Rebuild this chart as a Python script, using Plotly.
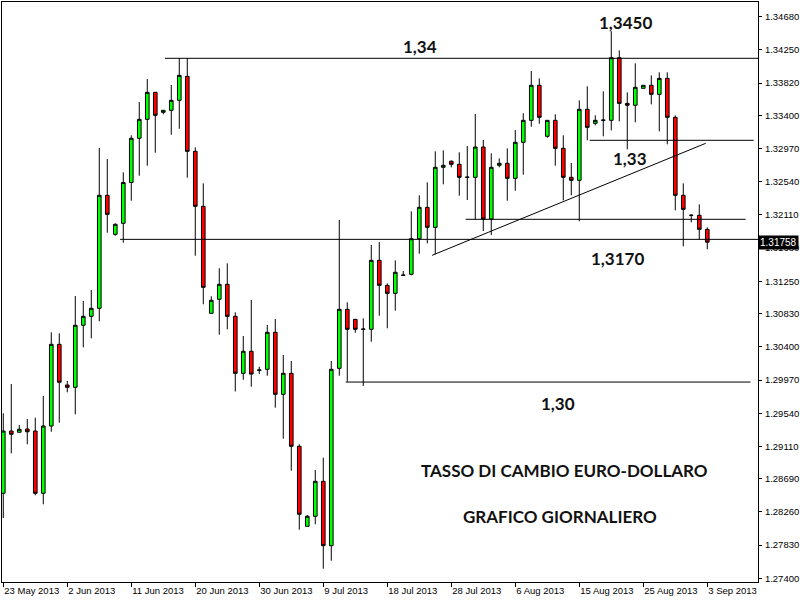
import plotly.graph_objects as go

# Trading days (Sunday-Friday sessions), 23 May 2013 .. 3 Sep 2013
dates = [
    "2013-05-23", "2013-05-24", "2013-05-26", "2013-05-27", "2013-05-28", "2013-05-29", "2013-05-30", "2013-05-31",
    "2013-06-02", "2013-06-03", "2013-06-04", "2013-06-05", "2013-06-06", "2013-06-07", "2013-06-09", "2013-06-10",
    "2013-06-11", "2013-06-12", "2013-06-13", "2013-06-14", "2013-06-16", "2013-06-17", "2013-06-18", "2013-06-19",
    "2013-06-20", "2013-06-21", "2013-06-23", "2013-06-24", "2013-06-25", "2013-06-26", "2013-06-27", "2013-06-28",
    "2013-06-30", "2013-07-01", "2013-07-02", "2013-07-03", "2013-07-04", "2013-07-05", "2013-07-07", "2013-07-08",
    "2013-07-09", "2013-07-10", "2013-07-11", "2013-07-12", "2013-07-14", "2013-07-15", "2013-07-16", "2013-07-17",
    "2013-07-18", "2013-07-19", "2013-07-21", "2013-07-22", "2013-07-23", "2013-07-24", "2013-07-25", "2013-07-26",
    "2013-07-28", "2013-07-29", "2013-07-30", "2013-07-31", "2013-08-01", "2013-08-02", "2013-08-04", "2013-08-05",
    "2013-08-06", "2013-08-07", "2013-08-08", "2013-08-09", "2013-08-11", "2013-08-12", "2013-08-13", "2013-08-14",
    "2013-08-15", "2013-08-16", "2013-08-18", "2013-08-19", "2013-08-20", "2013-08-21", "2013-08-22", "2013-08-23",
    "2013-08-25", "2013-08-26", "2013-08-27", "2013-08-28", "2013-08-29", "2013-08-30", "2013-09-01", "2013-09-02",
    "2013-09-03",
]

open_ = [
    1.28502, 1.29309, 1.29293, 1.29335, 1.29309, 1.28502, 1.29374, 1.30433, 1.29906, 1.29876,
    1.30680, 1.30796, 1.30900, 1.32365, 1.31859, 1.32002, 1.32531, 1.33104, 1.33350, 1.33700,
    1.33441, 1.33467, 1.33596, 1.33907, 1.32935, 1.32222, 1.30835, 1.31017, 1.31211, 1.30796,
    1.30057, 1.30343, 1.30096, 1.30109, 1.30589, 1.29785, 1.30057, 1.29111, 1.28074, 1.28204,
    1.28657, 1.27823, 1.30122, 1.30887, 1.30757, 1.30628, 1.30628, 1.31522, 1.31198, 1.31094,
    1.31328, 1.31341, 1.31802, 1.32209, 1.31950, 1.32728, 1.32806, 1.32767, 1.32598, 1.32598,
    1.32991, 1.32058, 1.32754, 1.32780, 1.32585, 1.33052, 1.33337, 1.33791, 1.33130, 1.33337,
    1.32974, 1.32598, 1.32559, 1.33480, 1.33298, 1.33337, 1.33337, 1.34149, 1.33557, 1.33532,
    1.33752, 1.33791, 1.33674, 1.33881, 1.33376, 1.32365, 1.32106, 1.32106, 1.31924,
]
high = [
    1.29539, 1.29919, 1.29387, 1.29465, 1.29482, 1.29763, 1.30589, 1.30576, 1.29958, 1.31059,
    1.30995, 1.31137, 1.32978, 1.32835, 1.32002, 1.32663, 1.33143, 1.33574, 1.33872, 1.33705,
    1.33470, 1.33795, 1.34141, 1.34141, 1.32987, 1.32520, 1.31056, 1.31419, 1.31483, 1.30848,
    1.30541, 1.31008, 1.30143, 1.30684, 1.30761, 1.30295, 1.30217, 1.29137, 1.28221, 1.28804,
    1.28963, 1.30217, 1.32045, 1.30978, 1.30757, 1.30770, 1.31721, 1.31759, 1.31224, 1.31522,
    1.31384, 1.32157, 1.32365, 1.32533, 1.32935, 1.32948, 1.32818, 1.32922, 1.33004, 1.33419,
    1.33082, 1.32909, 1.32844, 1.32974, 1.33211, 1.33428, 1.33976, 1.33881, 1.33337, 1.33415,
    1.33143, 1.32784, 1.33596, 1.33778, 1.33402, 1.33713, 1.34491, 1.34244, 1.33700, 1.34076,
    1.33791, 1.33920, 1.33959, 1.33959, 1.33402, 1.32520, 1.32118, 1.32248, 1.31950,
]
low = [
    1.28182, 1.29020, 1.29290, 1.29137, 1.28476, 1.28359, 1.29300, 1.29417, 1.29811, 1.29526,
    1.30394, 1.30511, 1.30732, 1.31880, 1.31841, 1.31750, 1.32295, 1.32619, 1.32749, 1.32917,
    1.33415, 1.33150, 1.33228, 1.32593, 1.31582, 1.30952, 1.30835, 1.30558, 1.30628, 1.29822,
    1.29974, 1.29884, 1.30048, 1.30026, 1.29612, 1.29210, 1.28795, 1.28030, 1.28074, 1.28100,
    1.27524, 1.27628, 1.30026, 1.29949, 1.30584, 1.29893, 1.30467, 1.30804, 1.30641, 1.30869,
    1.31328, 1.31328, 1.31608, 1.31743, 1.31600, 1.32507, 1.32728, 1.32360, 1.32304, 1.32054,
    1.31902, 1.31850, 1.32728, 1.32295, 1.32424, 1.32632, 1.33254, 1.33293, 1.33111, 1.32749,
    1.32300, 1.32365, 1.32028, 1.33078, 1.33272, 1.33130, 1.33207, 1.33324, 1.32961, 1.33311,
    1.33752, 1.33544, 1.33194, 1.33026, 1.32170, 1.31704, 1.32015, 1.31794, 1.31665,
]
close = [
    1.29309, 1.29267, 1.29332, 1.29300, 1.28502, 1.29374, 1.30433, 1.29941, 1.29876, 1.30680,
    1.30796, 1.30900, 1.32365, 1.32118, 1.31989, 1.32531, 1.33104, 1.33350, 1.33700, 1.33402,
    1.33467, 1.33596, 1.33920, 1.32935, 1.32222, 1.31172, 1.31004, 1.31211, 1.30796, 1.30057,
    1.30343, 1.30048, 1.30100, 1.30589, 1.29785, 1.30057, 1.29111, 1.28230, 1.28204, 1.28657,
    1.27823, 1.30109, 1.30887, 1.30628, 1.30628, 1.30630, 1.31522, 1.31198, 1.31094, 1.31367,
    1.31330, 1.31802, 1.32209, 1.31950, 1.32728, 1.32754, 1.32767, 1.32598, 1.32600, 1.32991,
    1.32058, 1.32728, 1.32780, 1.32585, 1.33052, 1.33337, 1.33791, 1.33376, 1.33337, 1.32974,
    1.32598, 1.32559, 1.33480, 1.33246, 1.33337, 1.33340, 1.34149, 1.33557, 1.33532, 1.33765,
    1.33791, 1.33674, 1.33881, 1.33376, 1.32365, 1.32183, 1.32106, 1.31924, 1.31758,
]

# x-axis tick labels (every 8 sessions)
tick_index = [0, 8, 16, 24, 32, 40, 48, 56, 64, 72, 80, 88]
tick_labels = ["23 May 2013", "2 Jun 2013", "11 Jun 2013", "20 Jun 2013", "30 Jun 2013", "9 Jul 2013",
               "18 Jul 2013", "28 Jul 2013", "6 Aug 2013", "15 Aug 2013", "25 Aug 2013", "3 Sep 2013"]

# price-axis ticks
price_ticks = [1.27400, 1.27830, 1.28260, 1.28690, 1.29110, 1.29540, 1.29970, 1.30400, 1.30830,
               1.31250, 1.31680, 1.32110, 1.32540, 1.32970, 1.33400, 1.33820, 1.34250, 1.34680]

# drawn support/resistance levels: (price, start session, end session)
level_prices = [1.34141, 1.31794, 1.29944, 1.33078, 1.32054]
level_start = [20.2, 14.6, 42.8, 73.3, 57.8]
level_end = [94.4, 94.4, 93.4, 93.8, 92.8]

# trend line (session, price)
trend_x = [53.6, 87.8]
trend_y = [1.31587, 1.33039]

last_price = 1.31758

x_idx = list(range(len(dates)))

fig = go.Figure()
fig.add_trace(go.Candlestick(
    x=x_idx, open=open_, high=high, low=low, close=close,
    increasing=dict(fillcolor="#00FF00", line=dict(color="black", width=1)),
    decreasing=dict(fillcolor="#FF0000", line=dict(color="black", width=1)),
    whiskerwidth=0, hoverinfo="skip", showlegend=False,
))

shapes = []
for p, a, b in zip(level_prices, level_start, level_end):
    shapes.append(dict(type="line", xref="x", yref="y", x0=a, x1=b, y0=p, y1=p,
                       line=dict(color="black", width=1)))
shapes.append(dict(type="line", xref="x", yref="y", x0=trend_x[0], x1=trend_x[1],
                   y0=trend_y[0], y1=trend_y[1], line=dict(color="black", width=1)))

lab_font = dict(family="Lato", size=17, color="#111111")
notes = [
    ("<b>1,3450</b>", 0.8241, 0.9655),
    ("<b>1,34</b>", 0.5529, 0.9241),
    ("<b>1,33</b>", 0.8307, 0.7310),
    ("<b>1,3170</b>", 0.8135, 0.5569),
    ("<b>1,30</b>", 0.7354, 0.3069),
    ("<b>TASSO DI CAMBIO EURO-DOLLARO</b>", 0.7434, 0.1914),
    ("<b>GRAFICO GIORNALIERO</b>", 0.7377, 0.1121),
]
annotations = [dict(text=t, x=x, y=y, xref="paper", yref="paper", showarrow=False,
                    xanchor="center", yanchor="middle", font=lab_font) for t, x, y in notes]
annotations.append(dict(text=f"{last_price:.5f}", x=1.0, xref="paper", y=last_price, yref="y",
                        xanchor="left", yanchor="middle", showarrow=False, bgcolor="black",
                        borderpad=1, xshift=0,
                        font=dict(family="Liberation Sans", size=10, color="white")))

fig.update_layout(
    width=800, height=600,
    margin=dict(l=2, r=42, t=2, b=18),
    plot_bgcolor="white", paper_bgcolor="white",
    showlegend=False, boxgap=0.35,
    shapes=shapes, annotations=annotations,
    xaxis=dict(range=[-0.16, 94.34], showgrid=False, zeroline=False, showline=True, mirror=True,
               linecolor="black", linewidth=1, ticks="outside", ticklen=4, tickcolor="black",
               tickvals=tick_index, ticktext=tick_labels, ticklabelposition="outside right",
               tickangle=0, automargin=False, ticklabelstandoff=0,
               tickfont=dict(family="Liberation Sans", size=9.5, color="black"),
               rangeslider=dict(visible=False)),
    yaxis=dict(side="right", range=[1.27352, 1.34871], showgrid=False, zeroline=False,
               showline=True, mirror=True, linecolor="black", linewidth=1,
               ticks="outside", ticklen=3, tickcolor="black", automargin=False,
               ticklabelstandoff=1,
               tickvals=price_ticks, ticktext=[f"{v:.5f}" for v in price_ticks],
               tickfont=dict(family="Liberation Sans", size=9.5, color="black")),
)

fig.write_html("out.html", config={"displayModeBar": False},
               post_script="document.body.style.margin='0';document.body.style.overflow='hidden';")
